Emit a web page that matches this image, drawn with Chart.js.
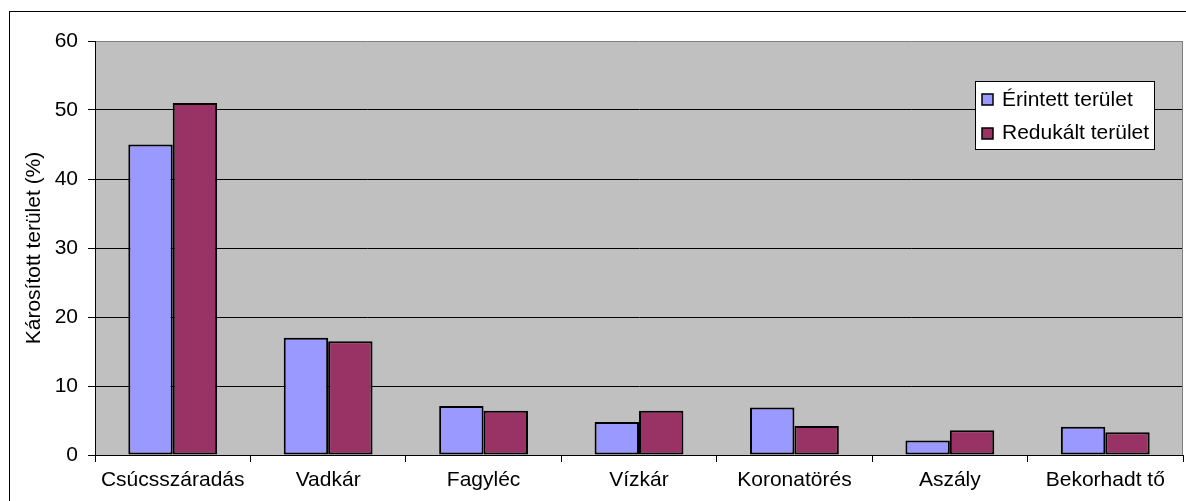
<!DOCTYPE html>
<html>
<head>
<meta charset="utf-8">
<script src="https://cdn.jsdelivr.net/npm/chart.js@4/dist/chart.umd.min.js"></script>
<style>
  html, body { margin: 0; padding: 0; background: #ffffff; }
  #wrap { width: 1186px; height: 501px; }
</style>
</head>
<body>
<div id="wrap"><canvas id="c" width="1186" height="501"></canvas></div>
<script>
const categories = ['Csúcsszáradás', 'Vadkár', 'Fagyléc', 'Vízkár', 'Koronatörés', 'Aszály', 'Bekorhadt tő'];
const erintett = [45, 17, 7.1, 4.8, 6.9, 2.1, 4.1];
const redukalt = [51, 16.5, 6.4, 6.4, 4.2, 3.6, 3.3];
const seriesNames = ['Érintett terület', 'Redukált terület'];
const yTitle = 'Károsított terület (%)';
const yMin = 0, yMax = 60, yStep = 10;

const FONT = "'Liberation Sans', Arial, sans-serif";
const FS = 21;

const decorPlugin = {
  id: 'decor',
  beforeDraw(chart) {
    const ctx = chart.ctx;
    const a = chart.chartArea;
    ctx.save();
    ctx.fillStyle = '#ffffff';
    ctx.fillRect(0, 0, chart.width, chart.height);
    ctx.strokeStyle = '#000000';
    ctx.lineWidth = 1;
    ctx.strokeRect(9.5, 11.5, 1300, 700);
    ctx.fillStyle = '#C0C0C0';
    ctx.fillRect(a.left, a.top, a.right - a.left, a.bottom - a.top);
    ctx.restore();
  },
  afterDatasetsDraw(chart) {
    const ctx = chart.ctx;
    const a = chart.chartArea;
    ctx.save();
    ctx.strokeStyle = '#808080';
    ctx.lineWidth = 1;
    ctx.beginPath();
    ctx.moveTo(Math.round(a.right) - 0.5, a.top);
    ctx.lineTo(Math.round(a.right) - 0.5, a.bottom);
    ctx.stroke();
    ctx.restore();
  },
  afterDraw(chart) {
    const ctx = chart.ctx;
    ctx.save();
    const bx = 975.5, by = 81.5, bw = 179, bh = 68;
    ctx.fillStyle = '#ffffff';
    ctx.fillRect(bx, by, bw, bh);
    ctx.strokeStyle = '#000000';
    ctx.lineWidth = 1;
    ctx.strokeRect(bx, by, bw, bh);
    ctx.font = FS + 'px ' + FONT;
    ctx.textBaseline = 'middle';
    ctx.textAlign = 'left';
    chart.data.datasets.forEach((ds, i) => {
      const cy = 100 + i * 33.5;
      ctx.fillStyle = ds.backgroundColor;
      ctx.fillRect(982, Math.round(cy - 6), 11, 11);
      ctx.strokeStyle = '#000000';
      ctx.lineWidth = 1.5;
      ctx.strokeRect(982, Math.round(cy - 6), 11, 11);
      ctx.fillStyle = '#000000';
      ctx.fillText(ds.label, 1002, cy);
    });
    ctx.restore();
  }
};

new Chart(document.getElementById('c'), {
  type: 'bar',
  data: {
    labels: categories,
    datasets: [
      { label: seriesNames[0], data: erintett, backgroundColor: '#9999FF', borderColor: '#000000', borderWidth: 2, borderSkipped: false },
      { label: seriesNames[1], data: redukalt, backgroundColor: '#993366', borderColor: '#000000', borderWidth: 2, borderSkipped: false }
    ]
  },
  options: {
    responsive: false,
    devicePixelRatio: 1,
    animation: false,
    layout: { padding: { left: 0, top: 41, right: 3, bottom: 0 } },
    datasets: { bar: { categoryPercentage: 1 / 1.75, barPercentage: 1 } },
    plugins: {
      legend: { display: false },
      tooltip: { enabled: false }
    },
    scales: {
      x: {
        offset: true,
        grid: { display: true, drawOnChartArea: false, drawTicks: true, tickLength: 7, tickColor: '#000000', offset: true },
        border: { display: true, color: '#000000', width: 1 },
        ticks: { color: '#000000', font: { family: FONT, size: FS }, padding: 6, maxRotation: 0, autoSkip: false },
        afterFit(scale) { scale.height = 46; }
      },
      y: {
        min: yMin, max: yMax,
        grid: {
          color: (c) => (c.tick && c.tick.value === yMax) ? '#808080' : '#000000',
          lineWidth: 1, tickLength: 7, tickColor: '#000000', drawTicks: true
        },
        border: { display: true, color: '#000000', width: 1 },
        ticks: { stepSize: yStep, color: '#000000', font: { family: FONT, size: FS }, padding: 10 },
        title: { display: true, text: yTitle, color: '#000000', font: { family: FONT, size: FS }, padding: { top: 22, bottom: 0 } },
        afterFit(scale) { scale.width = 95; }
      }
    }
  },
  plugins: [decorPlugin]
});
</script>
</body>
</html>
